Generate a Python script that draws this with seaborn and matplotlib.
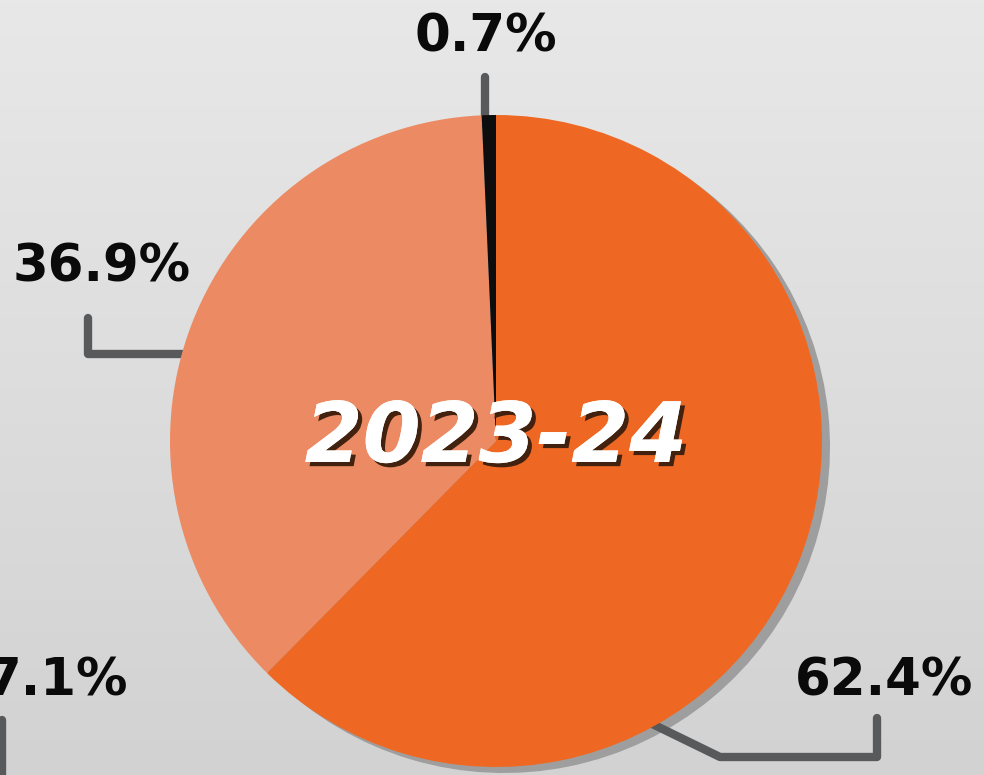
import numpy as np
import matplotlib
matplotlib.use("Agg")
import matplotlib.pyplot as plt
import matplotlib.patheffects as pe
from matplotlib.colors import LinearSegmentedColormap
import seaborn as sns

# ---- data ----
categories = ["Segment A", "Segment B", "Segment C"]
shares = [62.4, 36.9, 0.7]
slice_colors = ["#ef6823", "#ec8b63", "#0d0d0d"]
center_title = "2023-24"
neighbour_label = "7.1%"

sns.set_theme(style="white")
plt.rcParams["font.family"] = ["DejaVu Sans"]

W, H = 984, 775
fig = plt.figure(figsize=(W / 100, H / 100), dpi=100)
ax = fig.add_axes([0, 0, 1, 1])

# background gradient
grad = np.linspace(0, 1, 256).reshape(-1, 1)
bg = LinearSegmentedColormap.from_list("bg", ["#e8e8e8", "#d2d2d2"])
ax.imshow(grad, cmap=bg, extent=[0, W, 0, H], origin="upper", aspect="auto", zorder=0)

cx, cy, R = 496, 775 - 441, 326
# shadow
ax.pie(shares, colors=["#9e9e9e"] * len(shares), startangle=90, counterclock=False,
       radius=R, center=(cx + 8, cy - 6), wedgeprops=dict(linewidth=0))
wedges, _ = ax.pie(shares, colors=slice_colors, startangle=90, counterclock=False,
                   radius=R, center=(cx, cy), wedgeprops=dict(linewidth=0))
for w in wedges:
    w.set_zorder(3)

ax.set_xlim(0, W)
ax.set_ylim(0, H)
ax.set_aspect("auto")
ax.axis("off")

line_kw = dict(color="#58595b", lw=6, solid_capstyle="round", solid_joinstyle="round", zorder=2)

def Y(y):
    return H - y

# leader lines (layout)
ax.plot([485, 485], [Y(77), Y(125)], **line_kw)
ax.plot([88, 88, 185], [Y(318), Y(354), Y(354)], **line_kw)
ax.plot([640, 720, 877, 877], [Y(718), Y(757), Y(757), Y(718)], **line_kw)
ax.plot([2, 2], [Y(720), Y(790)], **line_kw)

lab_kw = dict(fontsize=37, fontweight="bold", color="#0a0a0a", zorder=5)
ax.text(486, Y(52), f"{shares[2]:.1f}%", ha="center", va="baseline", **lab_kw)
ax.text(102, Y(282), f"{shares[1]:.1f}%", ha="center", va="baseline", **lab_kw)
ax.text(884, Y(695), f"{shares[0]:.1f}%", ha="center", va="baseline", **lab_kw)
ax.text(-14, Y(695), neighbour_label, ha="left", va="baseline", **lab_kw)

ax.text(cx, Y(462), center_title, ha="center", va="baseline", fontsize=60,
        fontweight="black", fontstyle="italic", color="white", zorder=6,
        path_effects=[pe.withSimplePatchShadow(offset=(3, -3), shadow_rgbFace="#43210f", alpha=1.0),
                      pe.Normal()])

fig.savefig("out.png", dpi=100)
